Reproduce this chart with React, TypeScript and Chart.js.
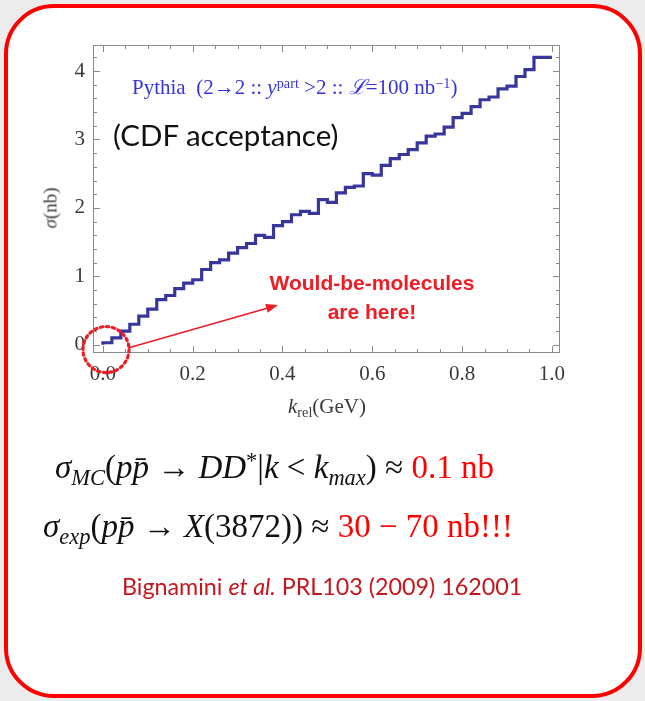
import React, { useEffect, useRef } from "react";
import { Chart, registerables } from "chart.js";

Chart.register(...registerables);

// Bin edges of k_rel (GeV)
const kEdges = [
  0.0, 0.02, 0.04, 0.06, 0.08, 0.1, 0.12, 0.14, 0.16, 0.18,
  0.2, 0.22, 0.24, 0.26, 0.28, 0.3, 0.32, 0.34, 0.36, 0.38,
  0.4, 0.42, 0.44, 0.46, 0.48, 0.5, 0.52, 0.54, 0.56, 0.58,
  0.6, 0.62, 0.64, 0.66, 0.68, 0.7, 0.72, 0.74, 0.76, 0.78,
  0.8, 0.82, 0.84, 0.86, 0.88, 0.9, 0.92, 0.94, 0.96, 0.98, 1.0,
];
// sigma (nb) per bin (cumulative cross section)
const sigmaNb = [
  0.0, 0.03, 0.1, 0.2, 0.3, 0.42, 0.52, 0.66, 0.72, 0.82,
  0.9, 0.95, 1.1, 1.2, 1.24, 1.34, 1.42, 1.48, 1.6, 1.57,
  1.74, 1.8, 1.9, 1.95, 1.92, 2.12, 2.08, 2.22, 2.3, 2.32,
  2.5, 2.48, 2.62, 2.72, 2.78, 2.85, 2.95, 3.05, 3.08, 3.18,
  3.32, 3.38, 3.48, 3.58, 3.62, 3.74, 3.78, 3.92, 4.02, 4.2,
];
const xTickValues = [
  0, 0.05, 0.1, 0.15, 0.2, 0.25, 0.3, 0.35, 0.4, 0.45, 0.5,
  0.55, 0.6, 0.65, 0.7, 0.75, 0.8, 0.85, 0.9, 0.95, 1.0,
];
const xMajorTicks = [0, 0.2, 0.4, 0.6, 0.8, 1.0];
const yTickValues = [
  0, 0.2, 0.4, 0.6, 0.8, 1, 1.2, 1.4, 1.6, 1.8, 2, 2.2, 2.4, 2.6, 2.8,
  3, 3.2, 3.4, 3.6, 3.8, 4, 4.2,
];
const yMajorTicks = [0, 1, 2, 3, 4];
const xRange = [-0.022, 1.018];
const yRange = [-0.12, 4.38];
// annotation anchors in data coordinates
const circleCenter = { x: 0.007, y: -0.07 };
const arrowFrom = { x: 0.06, y: -0.04 };
const arrowTo = { x: 0.39, y: 0.58 };

const isMajor = (v: number, list: number[]) =>
  list.some((m) => Math.abs(m - v) < 1e-6);

const framePlugin = {
  id: "framePlugin",
  afterDraw(chart: any) {
    const { ctx, chartArea: a, scales } = chart;
    const xs = scales.x;
    const ys = scales.y;
    ctx.save();
    ctx.strokeStyle = "#8a8a8a";
    ctx.lineWidth = 1;
    ctx.strokeRect(a.left + 0.5, a.top + 0.5, a.right - a.left - 1, a.bottom - a.top - 1);
    ctx.beginPath();
    xTickValues.forEach((v) => {
      const px = Math.round(xs.getPixelForValue(v)) + 0.5;
      const len = isMajor(v, xMajorTicks) ? 7 : 4;
      ctx.moveTo(px, a.bottom);
      ctx.lineTo(px, a.bottom - len);
      ctx.moveTo(px, a.top);
      ctx.lineTo(px, a.top + len);
    });
    yTickValues.forEach((v) => {
      const py = Math.round(ys.getPixelForValue(v)) + 0.5;
      const len = isMajor(v, yMajorTicks) ? 7 : 4;
      ctx.moveTo(a.left, py);
      ctx.lineTo(a.left + len, py);
      ctx.moveTo(a.right, py);
      ctx.lineTo(a.right - len, py);
    });
    ctx.stroke();

    // dotted circle
    ctx.strokeStyle = "#ee1c24";
    ctx.lineWidth = 3.2;
    ctx.setLineDash([2.5, 3.5]);
    ctx.lineCap = "round";
    ctx.beginPath();
    ctx.arc(xs.getPixelForValue(circleCenter.x), ys.getPixelForValue(circleCenter.y), 23, 0, Math.PI * 2);
    ctx.stroke();
    ctx.setLineDash([]);

    // arrow
    const x1 = xs.getPixelForValue(arrowFrom.x);
    const y1 = ys.getPixelForValue(arrowFrom.y);
    const x2 = xs.getPixelForValue(arrowTo.x);
    const y2 = ys.getPixelForValue(arrowTo.y);
    const ang = Math.atan2(y2 - y1, x2 - x1);
    const hl = 12;
    ctx.lineWidth = 1.6;
    ctx.lineCap = "butt";
    ctx.beginPath();
    ctx.moveTo(x1, y1);
    ctx.lineTo(x2 - hl * 0.8 * Math.cos(ang), y2 - hl * 0.8 * Math.sin(ang));
    ctx.stroke();
    ctx.fillStyle = "#ee1c24";
    ctx.beginPath();
    ctx.moveTo(x2, y2);
    ctx.lineTo(x2 - hl * Math.cos(ang) + 4.5 * Math.sin(ang), y2 - hl * Math.sin(ang) - 4.5 * Math.cos(ang));
    ctx.lineTo(x2 - hl * Math.cos(ang) - 4.5 * Math.sin(ang), y2 - hl * Math.sin(ang) + 4.5 * Math.cos(ang));
    ctx.closePath();
    ctx.fill();
    ctx.restore();
  },
};

function HistChart() {
  const ref = useRef<HTMLCanvasElement | null>(null);
  useEffect(() => {
    if (!ref.current) return;
    const points = kEdges.map((x, i) => ({
      x,
      y: sigmaNb[Math.min(i, sigmaNb.length - 1)],
    }));
    const chart = new Chart(ref.current, {
      type: "line",
      data: {
        datasets: [
          {
            data: points,
            stepped: "after",
            borderColor: "#37369c",
            borderWidth: 3.2,
            pointRadius: 0,
            fill: false,
          },
        ],
      },
      options: {
        responsive: false,
        animation: false,
        events: [],
        layout: { padding: { left: 0, top: 45, right: 85, bottom: 0 } },
        plugins: { legend: { display: false }, tooltip: { enabled: false }, title: { display: false } },
        scales: {
          x: {
            type: "linear",
            min: xRange[0],
            max: xRange[1],
            grid: { display: false, drawTicks: false },
            border: { display: false },
            afterBuildTicks: (s: any) => {
              s.ticks = xTickValues.map((v) => ({ value: v }));
            },
            afterFit: (s: any) => {
              s.height = 348;
            },
            ticks: {
              autoSkip: false,
              maxRotation: 0,
              padding: 9,
              color: "#3a3a3a",
              font: { family: "'Liberation Serif', serif", size: 21 },
              callback: (v: any) => (isMajor(Number(v), xMajorTicks) ? Number(v).toFixed(1) : ""),
            },
          },
          y: {
            type: "linear",
            min: yRange[0],
            max: yRange[1],
            grid: { display: false, drawTicks: false },
            border: { display: false },
            afterBuildTicks: (s: any) => {
              s.ticks = yTickValues.map((v) => ({ value: v }));
            },
            afterFit: (s: any) => {
              s.width = 93;
            },
            ticks: {
              autoSkip: false,
              padding: 8,
              color: "#3a3a3a",
              font: { family: "'Liberation Serif', serif", size: 21 },
              callback: (v: any) => (isMajor(Number(v), yMajorTicks) ? String(Math.round(Number(v))) : ""),
            },
          },
        },
      },
      plugins: [framePlugin],
    } as any);
    return () => chart.destroy();
  }, []);
  return (
    <canvas
      ref={ref}
      width={645}
      height={701}
      style={{ position: "absolute", left: 0, top: 0, width: 645, height: 701 }}
    />
  );
}

const abs = (left: number, top: number, extra: React.CSSProperties = {}): React.CSSProperties => ({
  position: "absolute",
  left,
  top,
  whiteSpace: "nowrap",
  lineHeight: 1,
  ...extra,
});

const serif = "'Liberation Serif', 'DejaVu Serif', serif";
const sans = "Lato, 'Open Sans', sans-serif";
const subStyle: React.CSSProperties = { fontSize: "0.68em", verticalAlign: "-0.3em" };
const supStyle: React.CSSProperties = { fontSize: "0.68em", verticalAlign: "0.45em" };

export default function App() {
  return (
    <div
      style={{
        position: "fixed",
        left: 0,
        top: 0,
        width: 645,
        height: 701,
        background: "#ececec",
        overflow: "hidden",
      }}
    >
      <div
        style={{
          position: "absolute",
          left: 4,
          top: 4,
          width: 638,
          height: 694,
          boxSizing: "border-box",
          border: "4px solid #ff0000",
          borderRadius: 50,
          background: "#ffffff",
        }}
      />
      <HistChart />
      <div style={abs(132, 76, { fontFamily: serif, fontSize: 21, color: "#3535d8" })}>
        Pythia&nbsp;&nbsp;(2→2 :: <i>y</i>
        <span style={supStyle}>part</span> &gt;2 :: <i>ℒ</i>=100 nb<span style={supStyle}>−1</span>)
      </div>
      <div style={abs(113, 120, { fontFamily: sans, fontSize: 29.5, color: "#111" })}>(CDF acceptance)</div>
      <div
        style={abs(222, 268, {
          width: 300,
          textAlign: "center",
          fontFamily: "'Liberation Sans', Arial, sans-serif",
          fontWeight: "bold",
          fontSize: 21,
          lineHeight: "29px",
          color: "#ee1c24",
        })}
      >
        Would-be-molecules
        <br />
        are here!
      </div>
      <div style={abs(227, 396, { width: 200, textAlign: "center", fontFamily: serif, fontSize: 21, color: "#3a3a3a" })}>
        <i>k</i>
        <span style={subStyle}>rel</span>(GeV)
      </div>
      <div
        style={abs(50, 208, {
          fontFamily: serif,
          fontSize: 19,
          color: "#3a3a3a",
          transform: "translate(-50%, -50%) rotate(-90deg)",
        })}
      >
        <i>σ</i>(nb)
      </div>
      <div style={abs(55, 450, { fontFamily: serif, fontSize: 33, color: "#111" })}>
        <i>σ</i>
        <span style={subStyle}>
          <i>MC</i>
        </span>
        (<i>p</i>
        <i>p̄</i> → <i>DD</i>
        <span style={supStyle}>*</span>|<i>k</i> &lt; <i>k</i>
        <span style={subStyle}>
          <i>max</i>
        </span>
        ) ≈ <span style={{ color: "#ff0000" }}>0.1 nb</span>
      </div>
      <div style={abs(43, 510, { fontFamily: serif, fontSize: 33, color: "#111" })}>
        <i>σ</i>
        <span style={subStyle}>
          <i>exp</i>
        </span>
        (<i>p</i>
        <i>p̄</i> → <i>X</i>(3872)) ≈ <span style={{ color: "#ff0000" }}>30 − 70 nb!!!</span>
      </div>
      <div style={abs(122, 575, { fontFamily: sans, fontSize: 23.3, color: "#c4161c" })}>
        Bignamini <i>et al.</i> PRL103 (2009) 162001
      </div>
    </div>
  );
}
